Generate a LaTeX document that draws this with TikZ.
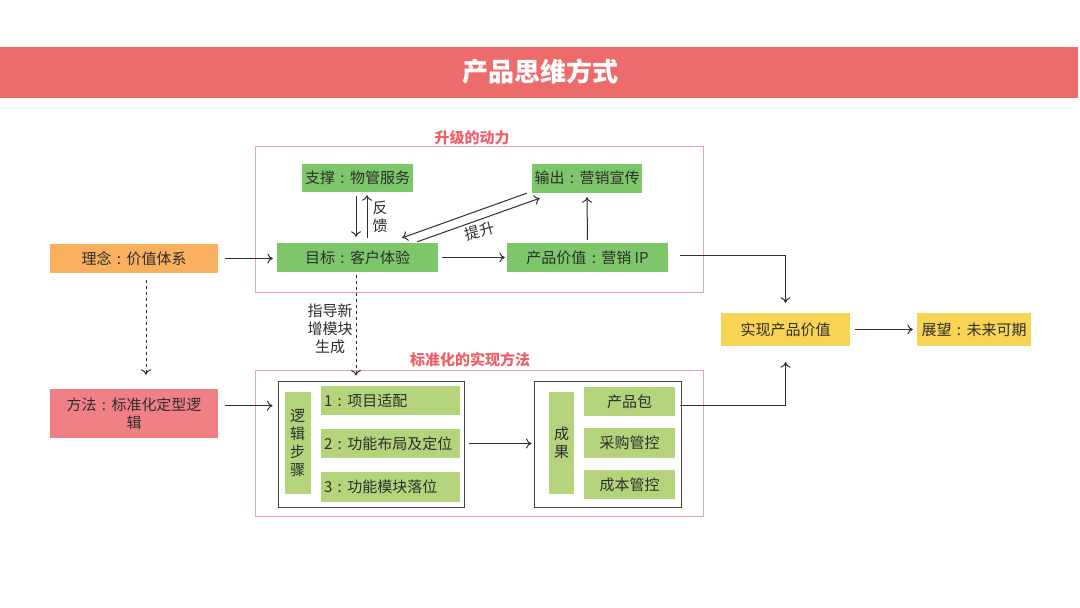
\documentclass[tikz,border=0pt]{standalone}
\usepackage{fontspec}
\setmainfont{Noto Sans CJK SC}
\usetikzlibrary{arrows.meta}
\definecolor{hdr}{HTML}{EE6B6B}
\definecolor{gtop}{HTML}{7EC66A}
\definecolor{gbot}{HTML}{B3D47A}
\definecolor{orng}{HTML}{F8B05E}
\definecolor{pnk}{HTML}{F07F86}
\definecolor{yel}{HTML}{F8D454}
\definecolor{frm}{HTML}{F2A0A8}
\definecolor{ttl}{HTML}{EE5F6A}
\definecolor{txt}{HTML}{2E2E2E}
\newcommand{\fwc}{\makebox[1em]{:}}
\begin{document}
\begin{tikzpicture}[x=1pt,y=-1pt,
  box/.style={inner sep=0pt,text=txt,font=\fontsize{15}{18}\selectfont,align=center},
  gt/.style={box,fill=gtop},
  gb/.style={box,fill=gbot},
  frame/.style={draw=frm,line width=0.8pt},
  inbox/.style={draw=txt!90,line width=1pt},
  conn/.style={draw=txt,line width=1pt,-{To[length=5.5pt,width=10pt]}},
  lbl/.style={text=txt,font=\fontsize{15}{18}\selectfont,align=center,inner sep=0pt},
  ftitle/.style={text=ttl,font=\bfseries\fontsize{15}{17}\selectfont,inner sep=0pt}]
\useasboundingbox (0,0) rectangle (1080,608);
% header
\fill[hdr] (0,47) rectangle (1078,98);
\node[text=white,font=\bfseries\fontsize{26}{30}\selectfont,inner sep=0pt] (title) at (540,72) {产品思维方式};
% frames
\draw[frame] (255,146) rectangle (703,292);
\node[ftitle] (t1) at (472,138) {升级的动力};
\draw[frame] (255,370) rectangle (703,516);
\node[ftitle] (t2) at (470,360) {标准化的实现方法};
% top nodes
\node[gt,minimum width=111pt,minimum height=28pt] (zc) at (357.5,178) {支撑\fwc 物管服务};
\node[gt,minimum width=110pt,minimum height=29pt] (sc) at (587,178) {输出\fwc 营销宣传};
\node[gt,minimum width=161pt,minimum height=29pt] (mb) at (357.5,257.5) {目标\fwc 客户体验};
\node[gt,minimum width=161pt,minimum height=29pt] (pv) at (587.5,257.5) {产品价值\fwc 营销 IP};
\node[box,fill=orng,minimum width=168pt,minimum height=29pt] (ln) at (134,258.5) {理念\fwc 价值体系};
\node[box,fill=pnk,minimum width=168pt,minimum height=49pt] (ff) at (134,413.5) {方法\fwc 标准化定型逻\\辑};
\node[box,fill=yel,minimum width=129pt,minimum height=33pt] (real) at (785.5,329.5) {实现产品价值};
\node[box,fill=yel,minimum width=114pt,minimum height=33pt] (zw) at (974,329.5) {展望\fwc 未来可期};
% inner boxes
\node[inbox,inner sep=0pt,minimum width=186pt,minimum height=126pt] (inl) at (371,444) {};
\node[inbox,inner sep=0pt,minimum width=147pt,minimum height=126pt] (inr) at (607.5,444) {};
\node[gb,minimum width=26pt,minimum height=102pt,text width=16pt] (lj) at (297.5,443) {逻\\辑\\步\\骤};
\node[gb,minimum width=139pt,minimum height=29pt,text width=133pt,align=left] (s1) at (390.5,400.5) {1\fwc 项目适配};
\node[gb,minimum width=139pt,minimum height=29pt,text width=133pt,align=left] (s2) at (390.5,443.5) {2\fwc 功能布局及定位};
\node[gb,minimum width=139pt,minimum height=30pt,text width=133pt,align=left] (s3) at (390.5,487) {3\fwc 功能模块落位};
\node[gb,minimum width=25pt,minimum height=102pt,text width=16pt] (cg) at (561.5,443) {成\\果};
\node[gb,minimum width=91pt,minimum height=29pt] (r1) at (629.5,401.5) {产品包};
\node[gb,minimum width=91pt,minimum height=30pt] (r2) at (629.5,443) {采购管控};
\node[gb,minimum width=91pt,minimum height=29pt] (r3) at (629.5,484.5) {成本管控};
% labels
\node[lbl] (fk) at (380,217) {反\\馈};
\node[lbl,rotate=15] (ts) at (480,231) {提升};
\node[lbl] (zd) at (330,329) {指导新\\增模块\\生成};
% connectors
\draw[conn,shorten <=7pt,shorten >=4pt] (ln.east) -- (ln.east -| mb.west);
\draw[conn,shorten <=7pt,shorten >=5pt] ([yshift=-17pt]ff.north east) coordinate (ffa) -- (ffa -| inl.west);
\draw[conn,shorten <=4pt,shorten >=6pt] ([xshift=-1.5pt]zc.south) -- ([xshift=-1.5pt]mb.north);
\draw[conn,shorten <=5pt,shorten >=3pt] ([xshift=9.5pt]mb.north) -- ([xshift=9.5pt]zc.south);
\draw[conn] ([xshift=-5pt,yshift=-0.5pt]sc.south west) -- ([xshift=-36pt,yshift=5pt]mb.north east);
\draw[conn] ([xshift=-21pt,yshift=1pt]mb.north east) -- ([xshift=8pt,yshift=-5.5pt]sc.south west);
\draw[conn,shorten <=4pt,shorten >=2pt] (mb.east) -- (pv.west);
\draw[conn,shorten <=3pt,shorten >=4.5pt] (pv.north) -- (sc.south);
\draw[conn,shorten >=10pt] ([xshift=12pt,yshift=2.5pt]pv.east) -| (real.north);
\draw[conn,shorten >=16pt] ([xshift=5pt,yshift=-4pt]r1.east) -| (real.south);
\draw[conn,shorten <=5pt,shorten >=4pt] (real.east) -- (zw.west);
\draw[conn,shorten <=4pt,shorten >=2pt] (inl.east |- s2) -- (inr.west |- s2);
\draw[conn,dashed,shorten <=7pt,shorten >=14pt] ([xshift=12pt]ln.south) -- ([xshift=12pt]ff.north);
\draw[conn,dashed,shorten <=3pt,shorten >=5pt] ([xshift=-1.5pt]mb.south) -- ([xshift=-1.5pt]mb.south |- inl.north);
\end{tikzpicture}
\end{document}
